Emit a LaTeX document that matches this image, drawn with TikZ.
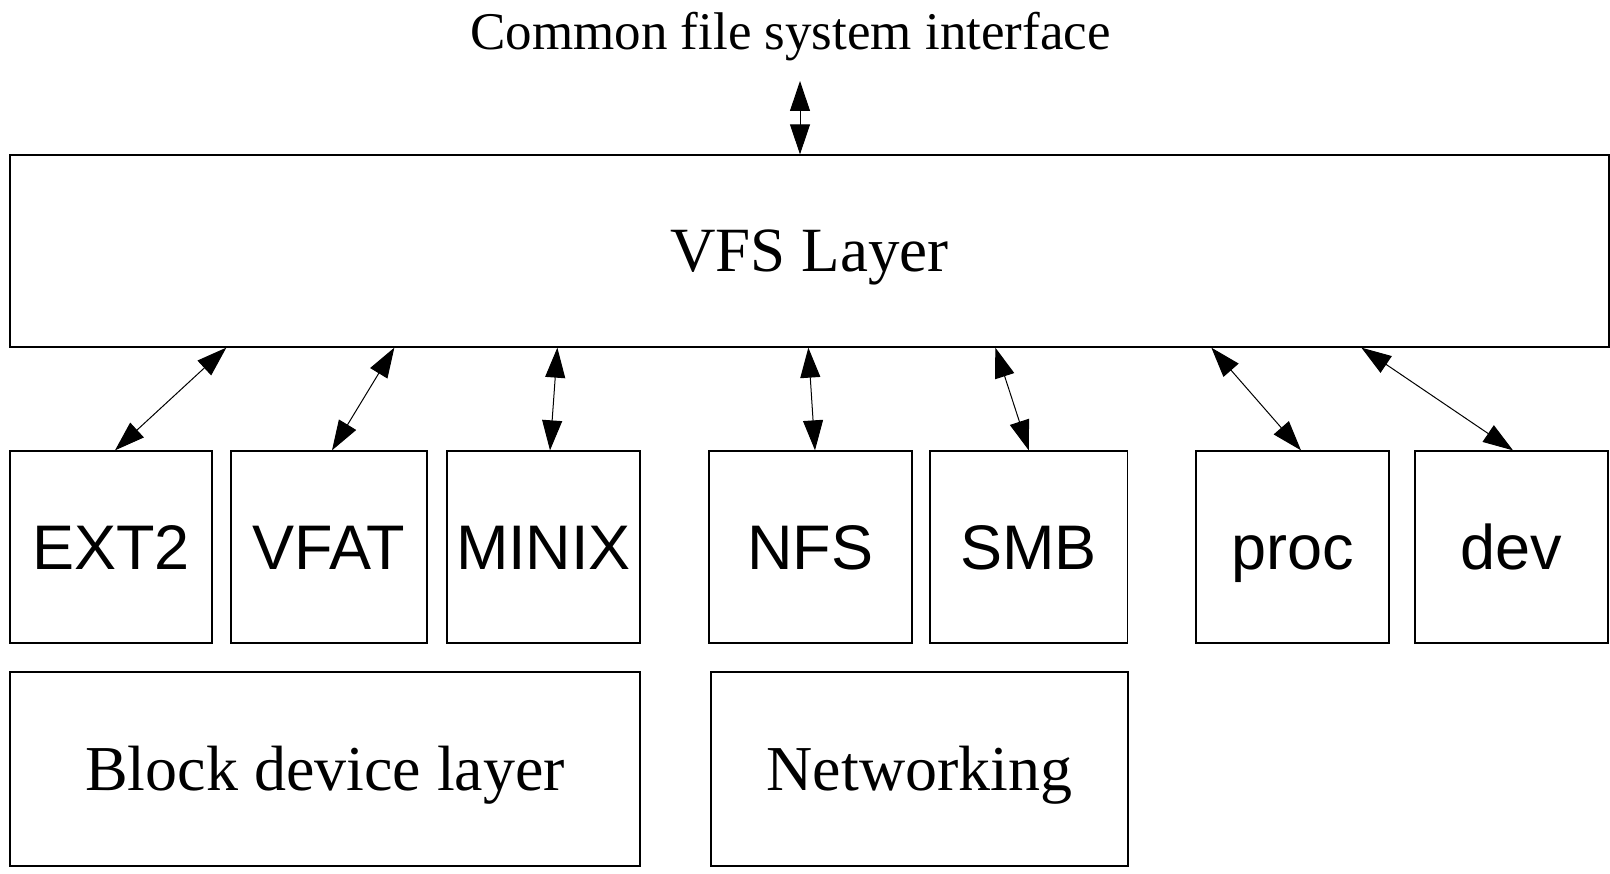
\documentclass[tikz,border=0pt]{standalone}
\usepackage{fontspec}
\setmainfont{Liberation Serif}
\newfontfamily\labsans{Liberation Sans}
\usetikzlibrary{arrows.meta}
\tikzset{
  serifbox/.style={draw, line width=1.3pt, inner sep=0pt, font=\fontsize{64}{70}\selectfont, text height=42pt, text depth=0pt},
  sansbox/.style={draw, line width=1.3pt, inner sep=0pt, minimum height=192pt, font=\labsans\fontsize{63}{70}\selectfont, text height=45pt, text depth=0pt},
  biarrow/.style={line width=1pt, {Triangle[length=30pt,width=20pt]}-{Triangle[length=30pt,width=20pt]}}
}
\begin{document}
\begin{tikzpicture}[x=1pt,y=-1pt]
\useasboundingbox (0,0) rectangle (1610,874);
\node[inner sep=0pt, font=\fontsize{53}{60}\selectfont, text height=35pt, text depth=0pt] (title) at (790.5,32.5) {Common file system interface};
\coordinate (top) at (800,81);
\node[serifbox, font=\fontsize{63}{70}\selectfont, minimum width=1599pt, minimum height=192pt] (vfs) at (809.5,251) {VFS Layer};

\node[sansbox, minimum width=202pt] (ext2) at (111,547) {EXT2};
\node[sansbox, minimum width=196pt] (vfat) at (329,547) {VFAT};
\node[sansbox, minimum width=193pt] (minix) at (543.5,547) {MINIX};
\node[sansbox, minimum width=203pt] (nfs) at (810.5,547) {NFS};
\node[sansbox, minimum width=197.5pt] (smb) at (1028.75,547) {SMB};
\node[sansbox, minimum width=193pt] (proc) at (1292.5,547) {proc};
\node[sansbox, minimum width=193pt] (dev) at (1511.5,547) {dev};

\node[serifbox, minimum width=630pt, minimum height=194pt] (block) at (325,769) {Block device layer};
\node[serifbox, minimum width=417pt, minimum height=194pt] (net) at (919.5,769) {Networking};

\draw[biarrow] (top) -- (vfs.north -| top);
\draw[biarrow] ([xshift=4pt]ext2.north) -- ([xshift=217pt]vfs.south west);
\draw[biarrow] ([xshift=3pt]vfat.north) -- ([xshift=385pt]vfs.south west);
\draw[biarrow] ([xshift=6.5pt]minix.north) -- ([xshift=548pt]vfs.south west);
\draw[biarrow] ([xshift=4.5pt]nfs.north) -- ([xshift=799pt]vfs.south west);
\draw[biarrow] (smb.north) -- ([xshift=986pt]vfs.south west);
\draw[biarrow] ([xshift=8.5pt]proc.north) -- ([xshift=1202pt]vfs.south west);
\draw[biarrow] ([xshift=1.5pt]dev.north) -- ([xshift=1352pt]vfs.south west);
\end{tikzpicture}
\end{document}
